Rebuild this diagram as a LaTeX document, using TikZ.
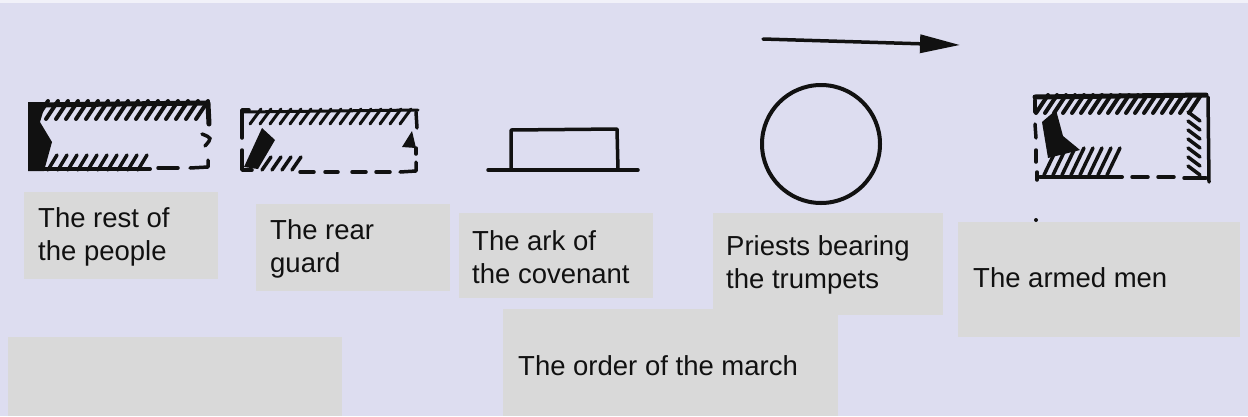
\documentclass[tikz,border=0pt]{standalone}
\usepackage{fontspec}
\setmainfont{Liberation Sans}
\usetikzlibrary{arrows.meta}
\definecolor{bgcol}{HTML}{DDDDF0}
\definecolor{boxcol}{HTML}{D9D9D9}
\definecolor{ink}{HTML}{111111}
\tikzset{
  lbl/.style={fill=boxcol, inner sep=0pt, anchor=north west, draw=none},
  txt/.style={font=\fontsize{27.5}{33}\selectfont, text=ink, anchor=base west, inner sep=0pt},
  pen/.style={draw=ink, line width=3.5pt, line cap=round, line join=round},
  hatch/.style={draw=ink, line width=3.5pt, line cap=round},
}
\begin{document}
\begin{tikzpicture}[x=1pt, y=-1pt]
\useasboundingbox (0,0) rectangle (1248,416);
\fill[bgcol] (0,0) rectangle (1248,416);
\fill[white!60!bgcol] (0,0) rectangle (1248,3);

% grey label boxes
\node[lbl, minimum width=194pt, minimum height=87pt] (b1) at (24,192) {};
\node[lbl, minimum width=194pt, minimum height=87pt] (b2) at (256,204) {};
\node[lbl, minimum width=194pt, minimum height=85pt] (b3) at (459,213) {};
\node[lbl, minimum width=230pt, minimum height=102pt] (b4) at (713,213) {};
\node[lbl, minimum width=282pt, minimum height=115pt] (b5) at (958,222) {};
\node[lbl, minimum width=335pt, minimum height=107pt] (b6) at (503,309) {};
\node[lbl, minimum width=334pt, minimum height=79pt] (b7) at (8,337) {};

% texts
\node[txt] (t1a) at (38,227) {The rest of};
\node[txt] (t1b) at (38,260) {the people};
\node[txt] (t2a) at (270,239) {The rear};
\node[txt] (t2b) at (270,272) {guard};
\node[txt] (t3a) at (472,250) {The ark of};
\node[txt] (t3b) at (472,283) {the covenant};
\node[txt] (t4a) at (726,255) {Priests bearing};
\node[txt] (t4b) at (726,288) {the trumpets};
\node[txt] (t5) at (973,287) {The armed men};
\node[txt] (t6) at (518,375) {The order of the march};

% direction arrow
\coordinate (a0) at (763,39);
\coordinate (a1) at (960,45);
\draw[pen, line width=3.5pt, -{Triangle[length=40pt,width=18pt]}] (a0) -- (a1);

% priests: circle
\node[circle, draw=ink, line width=4pt, minimum size=118pt, inner sep=0pt] (circ) at (821,144) {};

% ark
\draw[pen] (488,170) -- (638,170);
\draw[pen] (511,170) -- (511,130) -- (617,129) -- (618,170);

% box A: rest of the people
\draw[pen, line width=5pt] (32,105) -- (208,103);
\foreach \x in {36,46,...,196} \draw[hatch, line width=4pt] (\x,119) -- (\x+12,101);
\fill[ink] (28,102) -- (46,102) -- (40,122) -- (52,142) -- (44,171) -- (28,171) -- cycle;
\foreach \x in {48,58,...,140} \draw[hatch] (\x,170) -- (\x+9,155);
\draw[pen, line width=4pt] (40,169) -- (150,169);
\draw[pen] (158,168) -- (178,168);
\draw[pen] (190,168) -- (208,167) -- (208,160);
\draw[pen, line width=5pt] (208,104) -- (209,124);
\draw[hatch] (202,134) .. controls (212,138) .. (205,146);

% box B: rear guard
\draw[pen, line width=3pt] (243,112) -- (418,110);
\foreach \x in {250,260,...,408} \draw[hatch, line width=3pt] (\x,124) -- (\x+11,109);
\draw[pen] (249,110) -- (242,110) -- (242,138);
\draw[pen] (242,150) -- (242,170) -- (252,170);
\fill[ink] (244,167) -- (262,128) -- (275,140) -- (258,169) -- cycle;
\foreach \x in {262,272,282,292} \draw[hatch] (\x,170) -- (\x+9,157);
\draw[pen] (300,172) -- (314,172);
\draw[pen] (325,172) -- (338,172);
\draw[pen] (352,172) -- (366,172);
\draw[pen] (376,172) -- (390,172);
\draw[pen] (400,172) -- (416,171) -- (416,162);
\draw[pen] (416,112) -- (417,128);
\draw[pen] (416,148) -- (416,154);
\fill[ink] (402,147) -- (412,131) -- (416,148) -- cycle;

% box C: armed men
\draw[pen, line width=5pt] (1035,97) -- (1206,95);
\foreach \x in {1036,1045,...,1196} \draw[hatch, line width=4pt] (\x,113) -- (\x+12,95);
\draw[pen] (1208,97) -- (1209,182);
\foreach \y in {112,121,...,172} \draw[hatch] (1188,\y) -- (1200,\y+9);
\draw[pen] (1035,100) -- (1035,112);
\draw[pen] (1035,124) -- (1036,138);
\draw[pen] (1036,150) -- (1036,162);
\draw[pen] (1037,172) -- (1037,180);
\fill[ink] (1042,122) -- (1056,110) -- (1063,136) -- (1080,150) -- (1048,158) -- cycle;
\foreach \x in {1044,1053,...,1112} \draw[hatch] (\x,175) -- (\x+13,148);
\draw[pen, line width=4pt] (1040,177) -- (1122,177);
\draw[pen] (1132,177) -- (1148,177);
\draw[pen] (1158,177) -- (1174,177);
\draw[pen] (1184,178) -- (1206,178);

% stray dot
\fill[ink] (1036,220) circle (2pt);
\end{tikzpicture}
\end{document}
